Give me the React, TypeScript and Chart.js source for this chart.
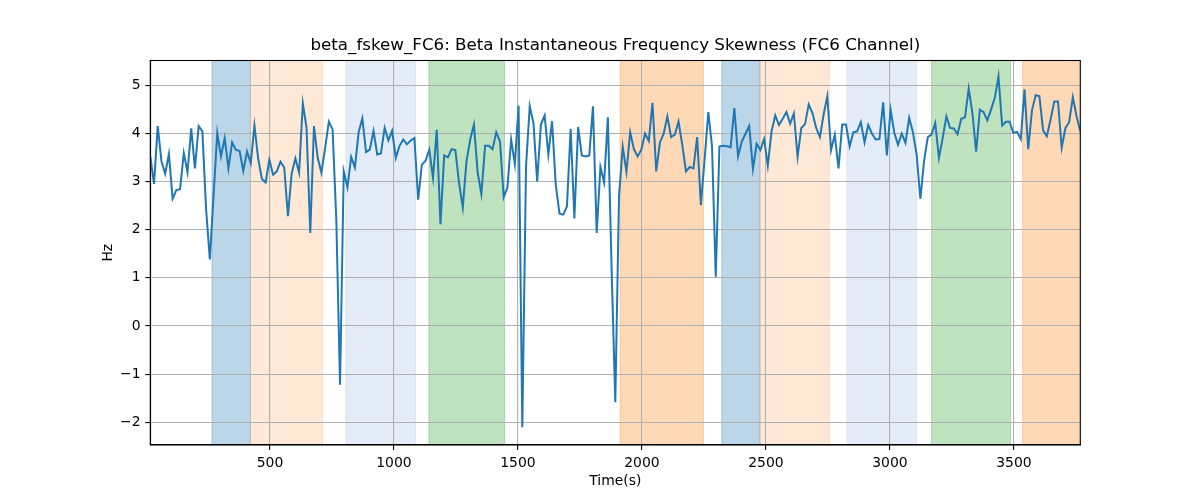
import React, { useEffect, useRef } from "react";
import { Chart, registerables, Plugin } from "chart.js";

Chart.register(...registerables);

const TITLE = "beta_fskew_FC6: Beta Instantaneous Frequency Skewness (FC6 Channel)";

// sampling of the time axis (seconds)
const timeStart = 17.5;
const timeStep = 15;

// beta instantaneous frequency skewness
const skewness = [
  3.52, 2.95, 4.15, 3.42, 3.16, 3.57, 2.64, 2.82, 2.84, 3.59,
  3.19, 4.10, 3.27, 4.15, 4.04, 2.42, 1.38, 2.70, 4.00, 3.52,
  3.90, 3.27, 3.81, 3.66, 3.63, 3.22, 3.62, 3.38, 4.16, 3.47,
  3.05, 2.98, 3.45, 3.14, 3.21, 3.41, 3.29, 2.28, 3.16, 3.48,
  3.18, 4.62, 4.11, 1.93, 4.15, 3.49, 3.18, 3.70, 4.24, 4.08,
  2.21, -1.22, 3.21, 2.88, 3.51, 3.29, 4.02, 4.31, 3.61, 3.66,
  4.05, 3.56, 3.58, 4.11, 3.85, 4.05, 3.49, 3.74, 3.87, 3.77,
  3.85, 3.90, 2.62, 3.35, 3.43, 3.66, 3.07, 4.07, 2.11, 3.54,
  3.50, 3.67, 3.65, 2.97, 2.46, 3.42, 3.87, 4.18, 3.18, 2.74,
  3.74, 3.74, 3.67, 4.02, 3.83, 2.67, 2.88, 3.87, 3.36, 4.57,
  -2.10, 3.31, 4.56, 4.21, 3.00, 4.18, 4.37, 3.56, 4.25, 2.93,
  2.33, 2.31, 2.48, 4.09, 2.23, 4.13, 3.54, 3.52, 3.54, 4.56,
  1.93, 3.30, 2.98, 4.33, 1.20, -1.58, 2.69, 3.72, 3.20, 4.02,
  3.67, 3.52, 3.66, 3.99, 3.84, 4.63, 3.21, 3.81, 3.99, 4.35,
  3.92, 3.97, 4.24, 3.76, 3.21, 3.30, 3.27, 3.92, 2.51, 3.45,
  4.44, 3.73, 1.02, 3.73, 3.74, 3.73, 3.71, 4.52, 3.52, 3.83,
  3.99, 4.15, 3.26, 3.78, 3.65, 3.88, 3.33, 4.04, 4.37, 4.17,
  4.30, 4.44, 4.20, 4.41, 3.51, 4.11, 4.19, 4.60, 4.42, 4.11,
  3.92, 4.39, 4.77, 3.65, 3.97, 3.27, 4.18, 4.18, 3.73, 4.02,
  4.04, 4.23, 3.81, 4.17, 3.99, 3.87, 3.88, 4.64, 3.54, 4.49,
  4.01, 3.76, 3.99, 3.80, 4.32, 4.02, 3.56, 2.64, 3.42, 3.92,
  3.97, 4.21, 3.49, 3.90, 4.35, 4.11, 4.10, 3.98, 4.30, 4.33,
  4.93, 4.42, 3.62, 4.49, 4.44, 4.27, 4.49, 4.73, 5.18, 4.16,
  4.24, 4.24, 4.01, 4.03, 3.88, 4.91, 3.67, 4.47, 4.79, 4.77,
  4.06, 3.94, 4.28, 4.66, 4.66, 3.70, 4.11, 4.23, 4.75, 4.35,
  4.04,
];

// shaded epochs
const bandStart = [266, 421, 806, 1141, 1912, 2322, 2476, 2826, 3168, 3535];
const bandEnd = [421, 712, 1087, 1446, 2248, 2476, 2756, 3107, 3486, 3800];
const bandColor = [
  "rgba(31,119,180,0.3)",
  "rgba(255,127,14,0.17)",
  "rgba(174,199,232,0.33)",
  "rgba(44,160,44,0.3)",
  "rgba(255,127,14,0.3)",
  "rgba(31,119,180,0.3)",
  "rgba(255,127,14,0.17)",
  "rgba(174,199,232,0.33)",
  "rgba(44,160,44,0.3)",
  "rgba(255,127,14,0.3)",
];

const xTicks = [500, 1000, 1500, 2000, 2500, 3000, 3500];
const yTicks = [-2, -1, 0, 1, 2, 3, 4, 5];

const FONT = "'DejaVu Sans', sans-serif";

const bandsPlugin: Plugin = {
  id: "bands",
  beforeDraw(chart) {
    const { ctx, chartArea } = chart;
    const x = chart.scales.x;
    ctx.save();
    ctx.beginPath();
    ctx.rect(chartArea.left, chartArea.top, chartArea.right - chartArea.left, chartArea.bottom - chartArea.top);
    ctx.clip();
    bandStart.forEach((s, i) => {
      const x0 = x.getPixelForValue(s);
      const x1 = x.getPixelForValue(bandEnd[i]);
      ctx.fillStyle = bandColor[i];
      ctx.fillRect(x0, chartArea.top, x1 - x0, chartArea.bottom - chartArea.top);
      ctx.strokeStyle = bandColor[i];
      ctx.lineWidth = 1;
      ctx.strokeRect(x0, chartArea.top, x1 - x0, chartArea.bottom - chartArea.top);
    });
    ctx.restore();
  },
};

const framePlugin: Plugin = {
  id: "frame",
  afterDraw(chart) {
    const { ctx, chartArea } = chart;
    ctx.save();
    ctx.strokeStyle = "#000";
    ctx.lineWidth = 1.1;
    ctx.strokeRect(chartArea.left, chartArea.top, chartArea.right - chartArea.left, chartArea.bottom - chartArea.top);
    ctx.fillStyle = "#000";
    ctx.font = `16.7px ${FONT}`;
    ctx.textAlign = "center";
    ctx.textBaseline = "middle";
    ctx.fillText(TITLE, (chartArea.left + chartArea.right) / 2, 46);
    ctx.restore();
  },
};

const App: React.FC = () => {
  const canvasRef = useRef<HTMLCanvasElement | null>(null);

  useEffect(() => {
    document.body.style.margin = "0";
    const ctx = canvasRef.current?.getContext("2d");
    if (!ctx) return;

    const points = skewness.map((v, i) => ({ x: timeStart + i * timeStep, y: v }));

    const chart = new Chart(ctx, {
      type: "line",
      data: {
        datasets: [
          {
            data: points,
            borderColor: "#1f77b4",
            borderWidth: 2,
            pointRadius: 0,
            tension: 0,
            fill: false,
          },
        ],
      },
      options: {
        responsive: false,
        animation: false,
        layout: { padding: { left: 0, right: 119.7, top: 60.5, bottom: 0 } },
        plugins: {
          legend: { display: false },
          tooltip: { enabled: false },
          title: { display: false },
        },
        scales: {
          x: {
            type: "linear",
            min: timeStart,
            max: timeStart + (skewness.length - 1) * timeStep,
            afterBuildTicks: (scale: any) => {
              scale.ticks = xTicks.map((v) => ({ value: v }));
            },
            afterFit: (scale: any) => {
              scale.height = 55;
            },
            grid: {
              color: "#b0b0b0",
              lineWidth: 1.1,
              tickColor: "#000",
              tickLength: 4.9,
              tickWidth: 1.1,
            },
            border: { display: true, color: "#000", width: 1.1 },
            ticks: {
              padding: 4.9,
              maxRotation: 0,
              color: "#000",
              font: { family: FONT, size: 13.9 },
              callback: (v: any) => String(v),
            },
            title: {
              display: true,
              text: "Time(s)",
              color: "#000",
              font: { family: FONT, size: 13.9 },
              padding: { top: 0, bottom: 10.7 },
            },
          },
          y: {
            type: "linear",
            min: -2.47,
            max: 5.51,
            afterBuildTicks: (scale: any) => {
              scale.ticks = yTicks.map((v) => ({ value: v }));
            },
            afterFit: (scale: any) => {
              scale.width = 150.3;
            },
            grid: {
              color: "#b0b0b0",
              lineWidth: 1.1,
              tickColor: "#000",
              tickLength: 4.9,
              tickWidth: 1.1,
            },
            border: { display: true, color: "#000", width: 1.1 },
            ticks: {
              padding: 4.9,
              color: "#000",
              font: { family: FONT, size: 13.9 },
              callback: (v: any) => (Number(v) < 0 ? "\u2212" + Math.abs(Number(v)) : String(v)),
            },
            title: {
              display: true,
              text: "Hz",
              color: "#000",
              font: { family: FONT, size: 13.9 },
              padding: { top: 99.7, bottom: 0 },
            },
          },
        },
      },
      plugins: [bandsPlugin, framePlugin],
    } as any);

    return () => {
      chart.destroy();
    };
  }, []);

  return (
    <div style={{ width: 1200, height: 500 }}>
      <canvas ref={canvasRef} width={1200} height={500} style={{ display: "block" }} />
    </div>
  );
};

export default App;
